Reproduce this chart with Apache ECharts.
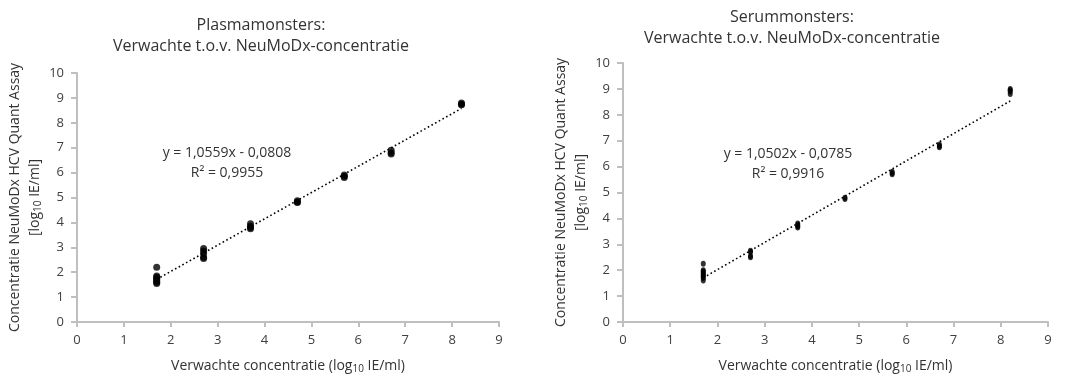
<!DOCTYPE html>
<html>
<head>
<meta charset="utf-8">
<script src="https://cdn.jsdelivr.net/npm/echarts@6/dist/echarts.min.js"></script>
<style>
  html, body { margin: 0; padding: 0; background: #fff; }
  #main { width: 1067px; height: 381px; }
</style>
</head>
<body>
<div id="main"></div>
<script>
// expected concentration levels (log10 IE/ml)
const levels = [1.7, 2.7, 3.7, 4.7, 5.7, 6.7, 8.2];

// measured values per level, plasma
const plasmaValues = [
  [2.2, 1.85, 1.8, 1.75, 1.7, 1.65, 1.6, 1.55],
  [2.95, 2.85, 2.75, 2.6, 2.55],
  [3.95, 3.85, 3.8, 3.75],
  [4.87, 4.82, 4.8],
  [5.9, 5.85, 5.8],
  [6.9, 6.8, 6.75],
  [8.8, 8.75, 8.72]
];

// measured values per level, serum
const serumValues = [
  [2.25, 2.0, 1.95, 1.9, 1.85, 1.8, 1.75, 1.7, 1.6],
  [2.75, 2.7, 2.55, 2.5],
  [3.8, 3.75, 3.7, 3.65],
  [4.8, 4.75],
  [5.8, 5.75, 5.7],
  [6.85, 6.8, 6.75],
  [9.0, 8.95, 8.9, 8.8]
];

const plasmaFit = { slope: 1.0559, intercept: -0.0808, r2: "0,9955", label: "y = 1,0559x - 0,0808" };
const serumFit = { slope: 1.0502, intercept: -0.0785, r2: "0,9916", label: "y = 1,0502x - 0,0785" };

const FONT = "Open Sans";
const TXT = "#333";
const AXIS = "#bfbfbf";

function toPoints(vals) {
  const pts = [];
  vals.forEach((arr, i) => arr.forEach((v) => pts.push([levels[i], v])));
  return pts;
}
function trend(fit) {
  const lo = levels[0], hi = levels[levels.length - 1];
  return [[lo, fit.slope * lo + fit.intercept], [hi, fit.slope * hi + fit.intercept]];
}

const sub = { fontSize: 10, fontFamily: FONT, color: TXT, padding: [6, 0, 0, 0] };
const nameStyle = {
  fontFamily: FONT, fontSize: 14, color: TXT, lineHeight: 20,
  rich: { s: sub }
};

function xAxis(idx) {
  return {
    type: "value", gridIndex: idx, min: 0, max: 9, interval: 1,
    name: "Verwachte concentratie (log{s|10} IE/ml)",
    nameLocation: "middle", nameGap: 34,
    nameTextStyle: nameStyle,
    axisLine: { lineStyle: { color: AXIS, width: 2 } },
    axisTick: { show: true, length: 5, lineStyle: { color: AXIS, width: 2 } },
    splitLine: { show: false },
    axisLabel: { fontFamily: FONT, fontSize: 13, color: "#404040", margin: 12 }
  };
}
function yAxis(idx, gap) {
  return {
    type: "value", gridIndex: idx, min: 0, max: 10, interval: 1,
    name: "Concentratie NeuMoDx HCV Quant Assay\n[log{s|10} IE/ml]",
    nameLocation: "middle", nameGap: gap, nameRotate: 90,
    nameTextStyle: nameStyle,
    axisLine: { show: true, lineStyle: { color: AXIS, width: 2 } },
    axisTick: { show: true, length: 6, lineStyle: { color: AXIS, width: 2 } },
    splitLine: { show: false },
    axisLabel: { fontFamily: FONT, fontSize: 13, color: "#404040", margin: 13 }
  };
}

const titleStyle = { fontFamily: FONT, fontSize: 16, fontWeight: "normal", color: TXT, lineHeight: 21 };
const eqStyle = { fontFamily: FONT, fontSize: 14, fontWeight: "normal", color: TXT, lineHeight: 20 };

const chart = echarts.init(document.getElementById("main"));
chart.setOption({
  animation: false,
  title: [
    { text: "Plasmamonsters:\nVerwachte t.o.v. NeuMoDx-concentratie", left: 256, top: 10, textAlign: "center", textStyle: titleStyle },
    { text: "Serummonsters:\nVerwachte t.o.v. NeuMoDx-concentratie", left: 787, top: 2, textAlign: "center", textStyle: titleStyle },
    { text: plasmaFit.label + "\nR² = " + plasmaFit.r2, left: 222, top: 138, textAlign: "center", textStyle: eqStyle },
    { text: serumFit.label + "\nR² = " + serumFit.r2, left: 783, top: 139, textAlign: "center", textStyle: eqStyle }
  ],
  grid: [
    { left: 77, top: 73, width: 422, height: 255 },
    { left: 623, top: 63, width: 425, height: 265 }
  ],
  xAxis: [xAxis(0), xAxis(1)],
  yAxis: [yAxis(0, 30), yAxis(1, 24)],
  series: [
    {
      type: "scatter", xAxisIndex: 0, yAxisIndex: 0,
      data: toPoints(plasmaValues), symbolSize: 7,
      itemStyle: { color: "#000" }
    },
    {
      type: "line", xAxisIndex: 0, yAxisIndex: 0,
      data: trend(plasmaFit), symbol: "none",
      lineStyle: { color: "#000", width: 1.6, type: [1.6, 2.6] }
    },
    {
      type: "scatter", xAxisIndex: 1, yAxisIndex: 1,
      data: toPoints(serumValues), symbol: "circle", symbolSize: [5, 6],
      itemStyle: { color: "#000" }
    },
    {
      type: "line", xAxisIndex: 1, yAxisIndex: 1,
      data: trend(serumFit), symbol: "none",
      lineStyle: { color: "#000", width: 1.6, type: [1.6, 2.6] }
    }
  ]
});
</script>
</body>
</html>
